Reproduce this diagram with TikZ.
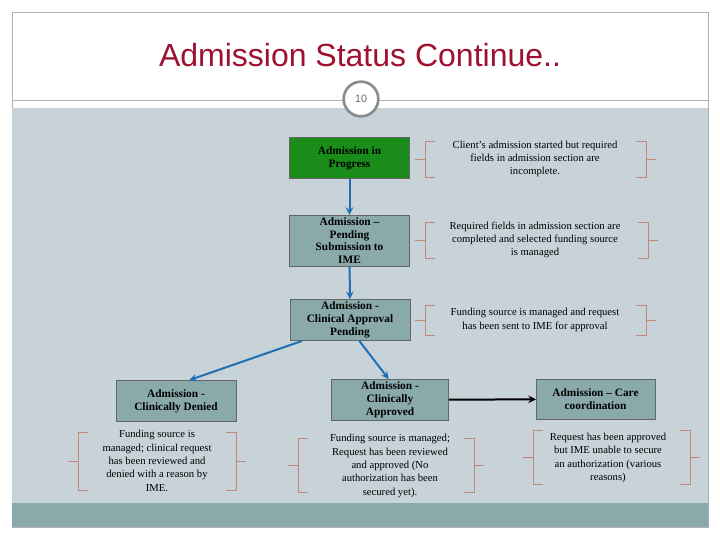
\documentclass[tikz,border=0pt]{standalone}
\usepackage{fontspec}
\setmainfont{Liberation Serif}
\newfontfamily\titlefont{Liberation Sans}
\definecolor{panel}{HTML}{C8D3D9}
\definecolor{boxc}{HTML}{8AA9AA}
\definecolor{greenc}{HTML}{1A8C1A}
\definecolor{bracec}{HTML}{C08878}
\definecolor{arrowc}{HTML}{1F6FB5}
\definecolor{titlec}{HTML}{A01030}
\begin{document}
\begin{tikzpicture}[x=0.75pt,y=-0.75pt,
  stbox/.style={draw=black!60,fill=boxc,font=\fontsize{8.5}{9.6}\selectfont\bfseries,align=center,inner sep=1pt},
  desc/.style={font=\fontsize{8}{10}\selectfont,align=center,inner sep=0pt},
  flow/.style={draw=arrowc,line width=1.5pt,-stealth},
  br/.style={draw=bracec,line width=0.6pt}]
\useasboundingbox (0,0) rectangle (720,540);
\fill[white] (0,0) rectangle (720,540);
\draw[black!30] (12,12) rectangle (708,527);
\fill[panel] (12,108) rectangle (708,503);
\fill[boxc] (12,503) rectangle (708,527);
\draw[black!30] (12,100) -- (708,100);
\node[font=\titlefont\fontsize{24}{28}\selectfont,text=titlec] (title) at (360,55) {Admission Status Continue..};
\node[circle,draw=black!45,line width=2pt,fill=white,minimum size=26pt,inner sep=0pt,font=\titlefont\fontsize{8}{9}\selectfont,text=black!60] (num) at (361,99) {10};
% boxes
\node[stbox,fill=greenc,minimum width=90pt,minimum height=31pt] (aip) at (349.5,158) {Admission in\\Progress};
\node[stbox,minimum width=90pt,minimum height=38pt] (pen) at (349.5,240.5) {Admission --\\Pending\\Submission to\\IME};
\node[stbox,minimum width=90pt,minimum height=31pt] (cap) at (350,320) {Admission -\\Clinical Approval\\Pending};
\node[stbox,minimum width=90pt,minimum height=31pt] (den) at (176,401) {Admission -\\Clinically Denied};
\node[stbox,minimum width=88pt,minimum height=31pt] (app) at (390,400) {Admission -\\Clinically\\Approved};
\node[stbox,minimum width=89pt,minimum height=30pt] (care) at (595.5,399) {Admission -- Care\\coordination};
% arrows
\draw[flow] (aip) -- (pen);
\draw[flow] (pen) -- (cap);
\draw[flow] ([xshift=-36pt]cap.south) -- ([xshift=10pt]den.north);
\draw[flow] ([xshift=7pt]cap.south) -- ([xshift=-1pt]app.north);
\draw[black,line width=1.5pt,-stealth] (app) -- (care);
% descriptions
\node[desc] (d1) at (535,159) {Client's admission started but required\\fields in admission section are\\incomplete.};
\node[desc] (d2) at (535,240) {Required fields in admission section are\\completed and selected funding source\\is managed};
\node[desc] (d3) at (535,320) {Funding source is managed and request\\has been sent to IME for approval};
\node[desc] (d4) at (157,461) {Funding source is\\managed; clinical request\\has been reviewed and\\denied with a reason by\\IME.};
\node[desc] (d5) at (390,466) {Funding source is managed;\\Request has been reviewed\\and approved (No\\authorization has been\\secured yet).};
\node[desc] (d6) at (608,458) {Request has been approved\\but IME unable to secure\\an authorization (various\\reasons)};
% braces: left x, right x, top, bottom
\foreach \l/\r/\t/\b in {425/646/141/177, 425/648/222/258, 425/646/305/335, 78/236/432/490, 298/474/438/492, 533/690/430/484}{
  \draw[br] (\l+10,\t) -- (\l,\t) -- (\l,\b) -- (\l+10,\b);
  \draw[br] (\l-10,{(\t+\b)/2}) -- (\l,{(\t+\b)/2});
  \draw[br] (\r-10,\t) -- (\r,\t) -- (\r,\b) -- (\r-10,\b);
  \draw[br] (\r+10,{(\t+\b)/2}) -- (\r,{(\t+\b)/2});
}
\end{tikzpicture}
\end{document}
